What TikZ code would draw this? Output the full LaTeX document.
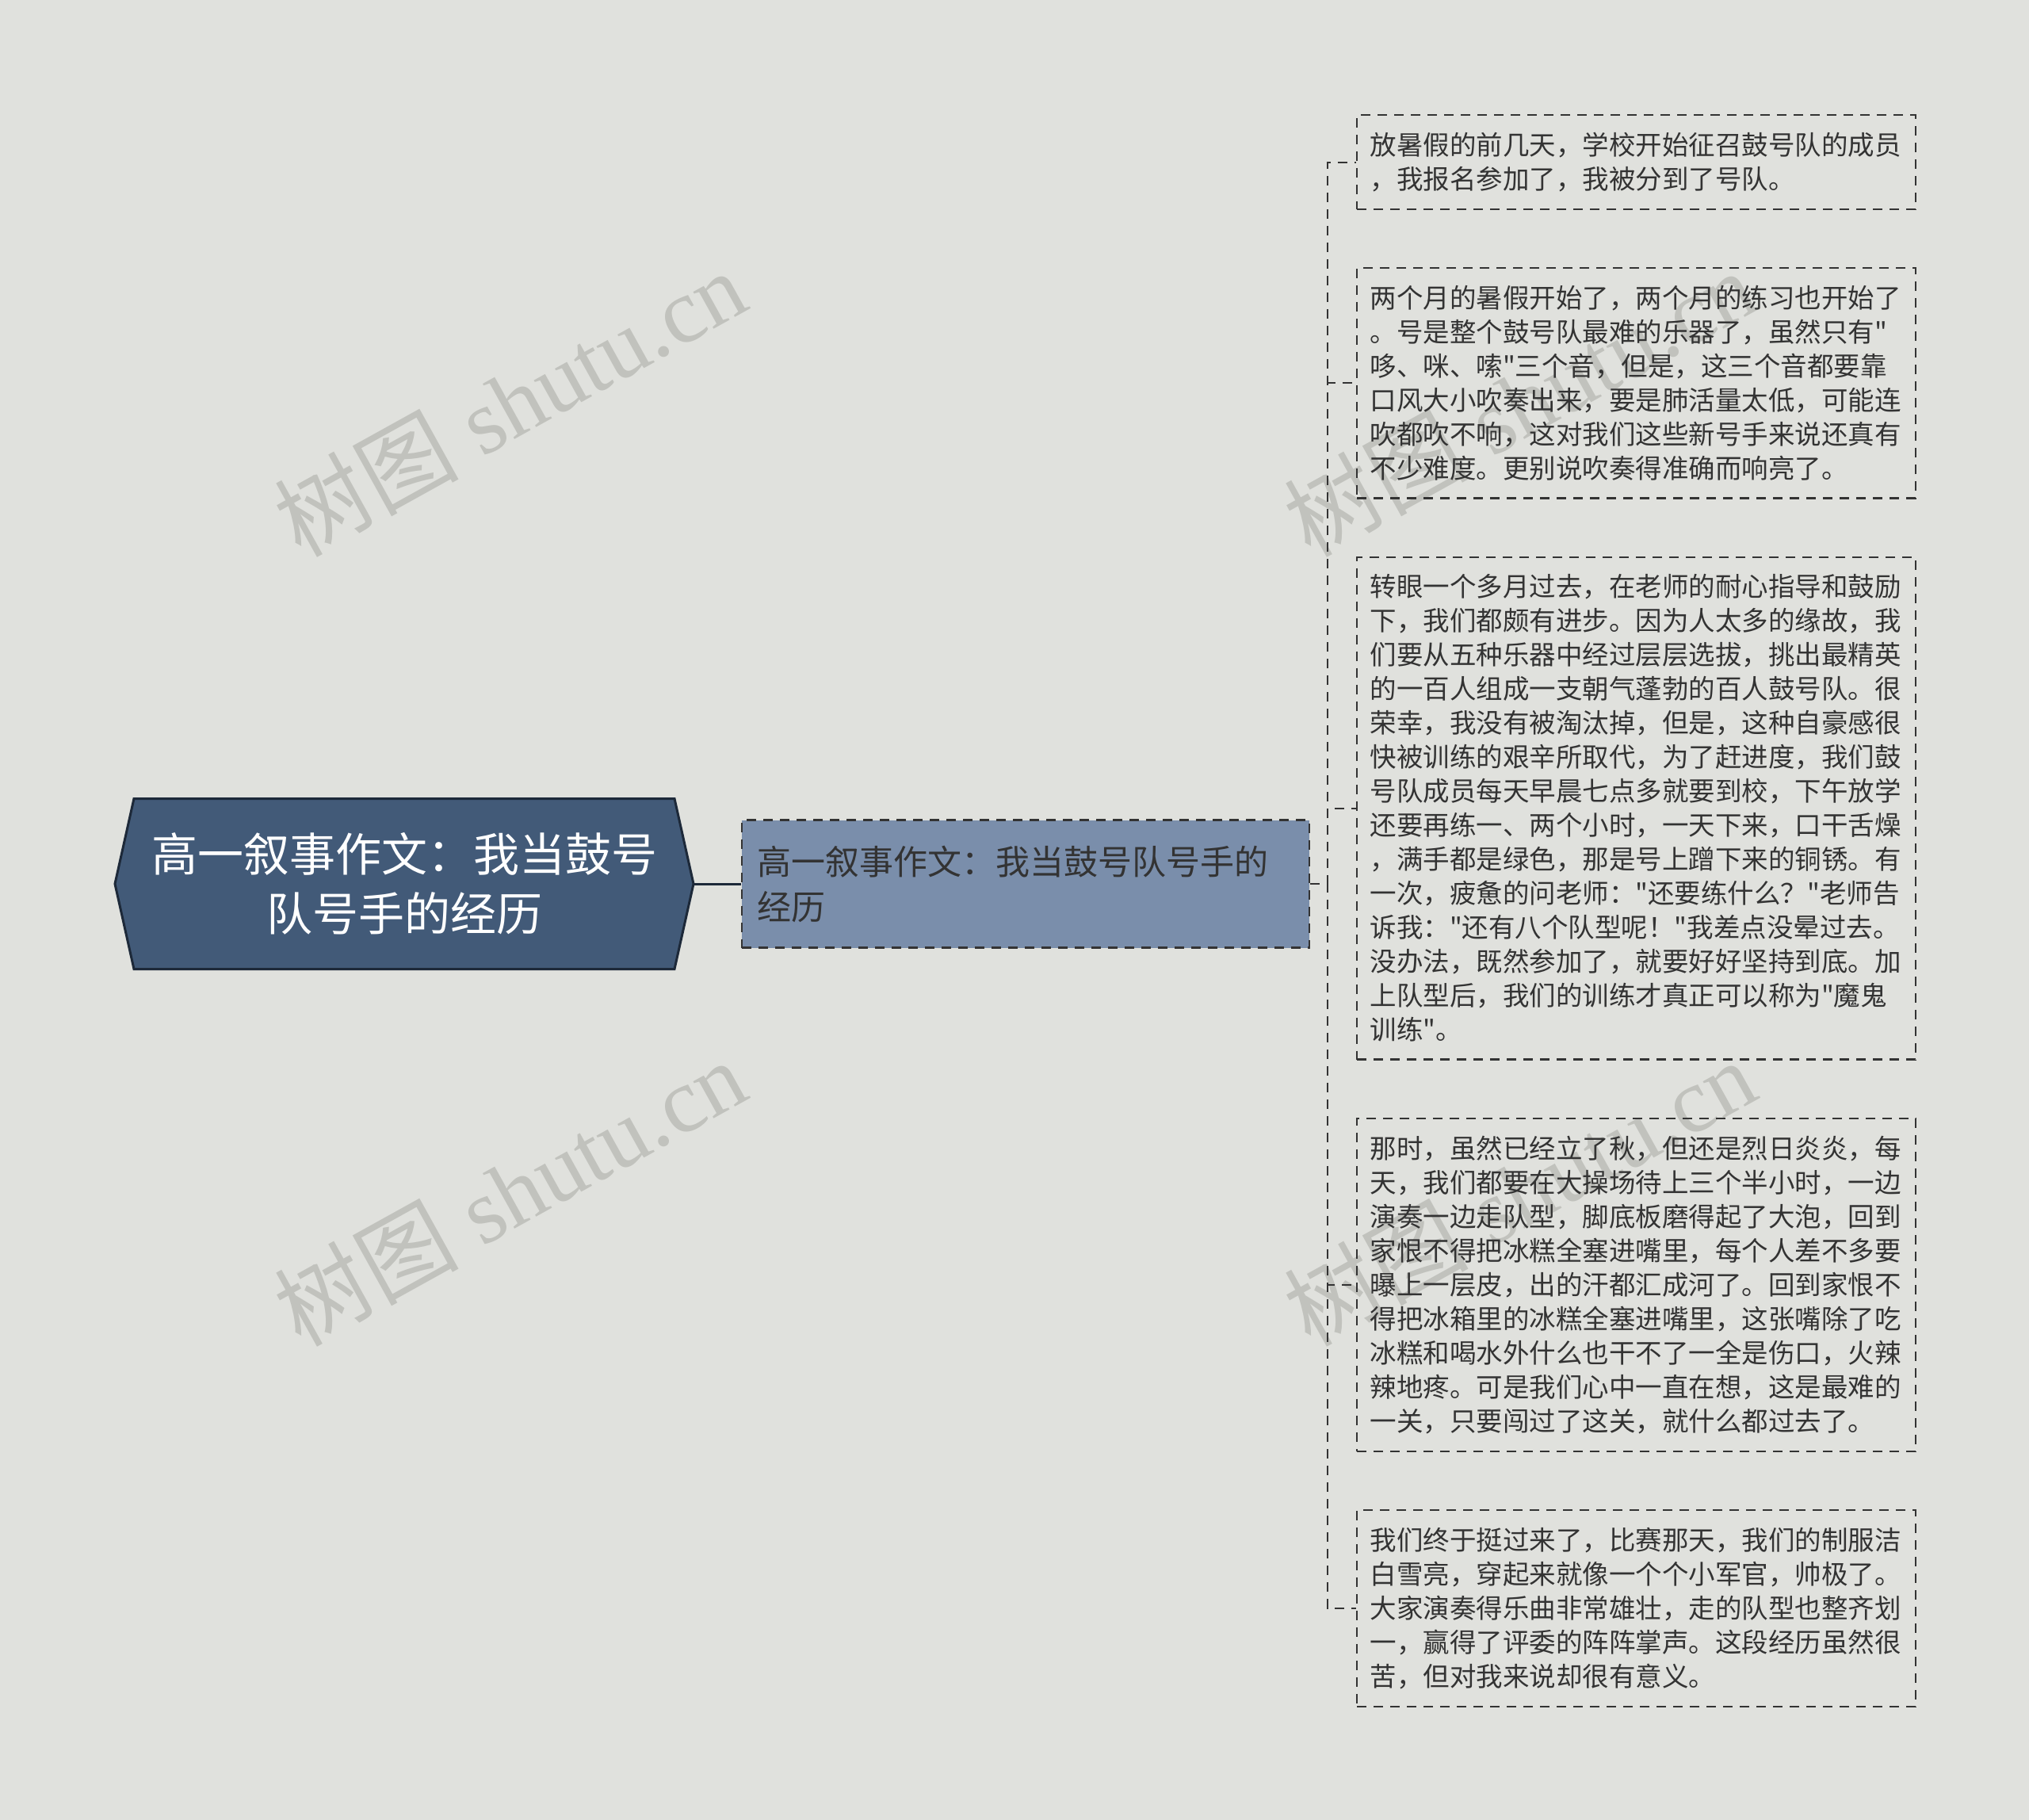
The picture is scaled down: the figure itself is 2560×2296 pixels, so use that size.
\documentclass[tikz,border=0pt]{standalone}
\usepackage{fontspec}
\newfontfamily\cjkfont{Noto Sans CJK SC}
\newfontfamily\wmfont{Liberation Serif}
\usetikzlibrary{positioning,backgrounds}
\definecolor{bgcol}{HTML}{E0E1DD}
\definecolor{rootcol}{HTML}{425A78}
\definecolor{rootline}{HTML}{1D2939}
\definecolor{midcol}{HTML}{7A8EAB}
\definecolor{txtcol}{HTML}{333333}
\definecolor{markcol}{HTML}{C1C2BD}

\begin{document}
\begin{tikzpicture}[x=0.5pt,y=-0.5pt,
  rootbox/.style = {rectangle, minimum width=365pt, minimum height=107.5pt, inner sep=0pt, outer sep=0pt,
    text=white, align=center, font=\cjkfont\fontsize{29}{37.5}\selectfont},
  rootshape/.style = {draw=rootline, line width=1.5pt, fill=rootcol},
  midbox/.style = {draw=txtcol, line width=1.1pt, dash pattern=on 6pt off 4.5pt, fill=midcol, text=txtcol,
    minimum height=80.5pt, text width=339pt, inner xsep=9.5pt, align=left, font=\cjkfont\fontsize{21.5}{28.5}\selectfont},
  leaf/.style = {draw=txtcol, line width=1.1pt, dash pattern=on 6pt off 4.5pt, text=txtcol,
    text width=336pt, inner xsep=8.25pt, inner ysep=11pt, align=left, font=\cjkfont\fontsize{16.75}{21.5}\selectfont},
  wmark/.style = {text=markcol, rotate=29, font=\wmfont\fontsize{58}{58}\selectfont},
  solidlink/.style = {draw=rootline, line width=1.5pt},
  link/.style = {draw=txtcol, line width=1pt, dash pattern=on 6pt off 4.5pt}]

  \node[wmark] (wm1) at (643,508)  {{\cjkfont 树图} shutu.cn};
  \node[wmark] (wm2) at (643,1504) {{\cjkfont 树图} shutu.cn};
  \node[wmark] (wm3) at (1917,508)  {{\cjkfont 树图} shutu.cn};
  \node[wmark] (wm4) at (1917,1504) {{\cjkfont 树图} shutu.cn};

  \node[rootbox] (root) at (510,1115) {高一叙事作文：我当鼓号\\队号手的经历};
  \node[midbox] (mid) [right=30pt of root] {高一叙事作文：我当鼓号队号手的\\经历};

  \node[leaf, anchor=north west] (b1) at (1711,144)
    {放暑假的前几天，学校开始征召鼓号队的成员\\，我报名参加了，我被分到了号队。};
  \node[leaf] (b2) [below=36pt of b1]
    {两个月的暑假开始了，两个月的练习也开始了\\
     。号是整个鼓号队最难的乐器了，虽然只有"\\
     哆、咪、嗦"三个音，但是，这三个音都要靠\\
     口风大小吹奏出来，要是肺活量太低，可能连\\
     吹都吹不响，这对我们这些新号手来说还真有\\
     不少难度。更别说吹奏得准确而响亮了。};
  \node[leaf] (b3) [below=36pt of b2]
    {转眼一个多月过去，在老师的耐心指导和鼓励\\
     下，我们都颇有进步。因为人太多的缘故，我\\
     们要从五种乐器中经过层层选拔，挑出最精英\\
     的一百人组成一支朝气蓬勃的百人鼓号队。很\\
     荣幸，我没有被淘汰掉，但是，这种自豪感很\\
     快被训练的艰辛所取代，为了赶进度，我们鼓\\
     号队成员每天早晨七点多就要到校，下午放学\\
     还要再练一、两个小时，一天下来，口干舌燥\\
     ，满手都是绿色，那是号上蹭下来的铜锈。有\\
     一次，疲惫的问老师："还要练什么？"老师告\\
     诉我："还有八个队型呢！"我差点没晕过去。\\
     没办法，既然参加了，就要好好坚持到底。加\\
     上队型后，我们的训练才真正可以称为"魔鬼\\
     训练"。};
  \node[leaf] (b4) [below=36pt of b3]
    {那时，虽然已经立了秋，但还是烈日炎炎，每\\
     天，我们都要在大操场待上三个半小时，一边\\
     演奏一边走队型，脚底板磨得起了大泡，回到\\
     家恨不得把冰糕全塞进嘴里，每个人差不多要\\
     曝上一层皮，出的汗都汇成河了。回到家恨不\\
     得把冰箱里的冰糕全塞进嘴里，这张嘴除了吃\\
     冰糕和喝水外什么也干不了一全是伤口，火辣\\
     辣地疼。可是我们心中一直在想，这是最难的\\
     一关，只要闯过了这关，就什么都过去了。};
  \node[leaf] (b5) [below=36pt of b4]
    {我们终于挺过来了，比赛那天，我们的制服洁\\
     白雪亮，穿起来就像一个个小军官，帅极了。\\
     大家演奏得乐曲非常雄壮，走的队型也整齐划\\
     一，赢得了评委的阵阵掌声。这段经历虽然很\\
     苦，但对我来说却很有意义。};

  \coordinate (fork) at ([xshift=11pt]mid.east);

  \begin{scope}[on background layer]
    \fill[bgcol] (0,0) rectangle (2560,2296);
    \path[rootshape] ([xshift=12pt]root.north west) -- ([xshift=-12pt]root.north east) -- (root.east)
      -- ([xshift=-12pt]root.south east) -- ([xshift=12pt]root.south west) -- (root.west) -- cycle;
  \end{scope}

  \path[solidlink] (root) -- (mid);
  \foreach \leafname in {b1,b2,b3,b4,b5}
    \path[link] (mid.east) -- (fork) |- (\leafname.west);
\end{tikzpicture}
\end{document}
